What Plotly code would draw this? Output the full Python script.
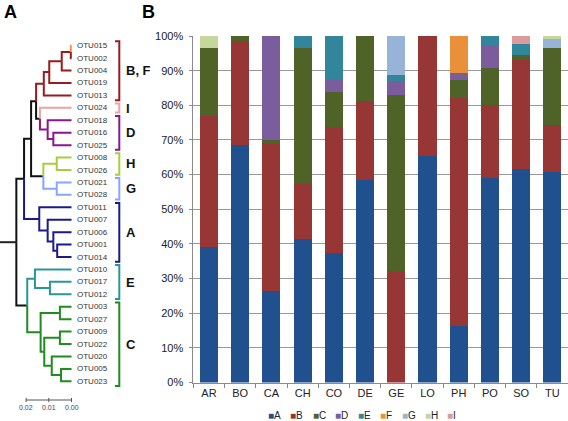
import plotly.graph_objects as go

W, H = 568, 421
FONT = "Liberation Sans, Arial, Helvetica, sans-serif"

# ---------------- bar chart data (percent) ----------------
categories = ["AR", "BO", "CA", "CH", "CO", "DE", "GE", "LO", "PH", "PO", "SO", "TU"]
series_names = ["A", "B", "C", "D", "E", "F", "G", "H", "I"]
A_vals = [39.0, 68.6, 26.4, 41.5, 37.3, 58.5, 0.0, 65.5, 16.3, 59.1, 61.7, 60.8]
B_vals = [38.0, 30.0, 42.5, 16.0, 36.5, 22.7, 32.3, 34.5, 65.7, 20.9, 31.5, 13.6]
C_vals = [19.6, 1.4, 1.0, 38.9, 10.0, 18.8, 50.7, 0.0, 5.4, 10.9, 1.2, 22.0]
D_vals = [0.0, 0.0, 30.1, 0.0, 3.9, 0.0, 4.1, 0.0, 1.8, 6.4, 0.0, 0.0]
E_vals = [0.0, 0.0, 0.0, 3.6, 12.3, 0.0, 1.6, 0.0, 0.0, 2.7, 3.4, 0.0]
F_vals = [0.0, 0.0, 0.0, 0.0, 0.0, 0.0, 0.0, 0.0, 10.8, 0.0, 0.0, 0.0]
G_vals = [0.0, 0.0, 0.0, 0.0, 0.0, 0.0, 11.3, 0.0, 0.0, 0.0, 0.0, 2.8]
H_vals = [3.4, 0.0, 0.0, 0.0, 0.0, 0.0, 0.0, 0.0, 0.0, 0.0, 0.0, 0.8]
I_vals = [0.0, 0.0, 0.0, 0.0, 0.0, 0.0, 0.0, 0.0, 0.0, 0.0, 2.2, 0.0]
series_values = [A_vals, B_vals, C_vals, D_vals, E_vals, F_vals, G_vals, H_vals, I_vals]
bar_colors = ["#21508f", "#973735", "#4f6228", "#7b5d9d", "#31869c",
              "#e8903a", "#97b3d8", "#c5d79c", "#dc9a9a"]
y_ticks = [0, 10, 20, 30, 40, 50, 60, 70, 80, 90, 100]

# ---------------- dendrogram data ----------------
leaves = ["OTU015", "OTU002", "OTU004", "OTU019", "OTU013", "OTU024", "OTU018",
          "OTU016", "OTU025", "OTU008", "OTU026", "OTU021", "OTU028", "OTU011",
          "OTU007", "OTU006", "OTU001", "OTU014", "OTU010", "OTU017", "OTU012",
          "OTU003", "OTU027", "OTU009", "OTU022", "OTU020", "OTU005", "OTU023"]
clades = ["B, F", "I", "D", "H", "G", "A", "E", "C"]
clade_sizes = [5, 1, 3, 2, 2, 5, 3, 7]
clade_colors = ["#9a1b1f", "#eca3a3", "#8c148c", "#a9cc3e", "#86a6ff",
                "#1a1a8c", "#2a9797", "#1f8c1f"]
leaf_color_override = {"OTU015": "#ff9040"}
# internal nodes: name -> (height in substitutions/site, children)
nodes = {
    "root": (0.0243, ["W", "EC"]),
    "W": (0.0209, ["Z", "Acl"]),
    "Z": (0.0178, ["X", "HG"]),
    "X": (0.0156, ["BF", "Y"]),
    "BF": (0.0122, ["bf1", "OTU013"]),
    "bf1": (0.0098, ["bf2", "OTU019"]),
    "bf2": (0.0043, ["bf3", "OTU004"]),
    "bf3": (0.0003, ["OTU015", "OTU002"]),
    "Y": (0.0139, ["OTU024", "Dcl"]),
    "Dcl": (0.0105, ["OTU018", "d1"]),
    "d1": (0.0080, ["OTU016", "OTU025"]),
    "HG": (0.0124, ["Hcl", "Gcl"]),
    "Hcl": (0.0065, ["OTU008", "OTU026"]),
    "Gcl": (0.0065, ["OTU021", "OTU028"]),
    "Acl": (0.0142, ["OTU011", "a1"]),
    "a1": (0.0105, ["OTU007", "a2"]),
    "a2": (0.0080, ["OTU006", "a3"]),
    "a3": (0.0063, ["OTU001", "OTU014"]),
    "EC": (0.0195, ["Ecl", "Ccl"]),
    "Ecl": (0.0161, ["OTU010", "e1"]),
    "e1": (0.0095, ["OTU017", "OTU012"]),
    "Ccl": (0.0136, ["c1", "c2"]),
    "c1": (0.0051, ["OTU003", "OTU027"]),
    "c2": (0.0120, ["c3", "c4"]),
    "c3": (0.0051, ["OTU009", "OTU022"]),
    "c4": (0.0087, ["OTU020", "c5"]),
    "c5": (0.0046, ["OTU005", "OTU023"]),
}
root_stem = 0.0315
scale_ticks = [0.02, 0.01, 0.00]

# ---------------- geometry helpers ----------------
def px_x(x):
    return x / W

def px_y(y):
    return 1 - y / H

TIP_PX = 71.5
PX_PER_UNIT = 2270.0
LEAF0_PX = 45.7
LEAF_STEP = 12.43

def dx(px):  # pixel -> tree distance units
    return (TIP_PX - px) / PX_PER_UNIT

leaf_index = {n: i for i, n in enumerate(leaves)}
leaf_clade = {}
k = 0
for ci, sz in enumerate(clade_sizes):
    for j in range(sz):
        leaf_clade[leaves[k]] = ci
        k += 1

def height(n):
    return nodes[n][0] if n in nodes else 0.0

def ypos(n):
    if n in leaf_index:
        return leaf_index[n]
    ch = nodes[n][1]
    return sum(ypos(c) for c in ch) / len(ch)

def leaves_of(n):
    if n in leaf_index:
        return [n]
    out = []
    for c in nodes[n][1]:
        out += leaves_of(c)
    return out

def color_of(n):
    if n in leaf_index:
        return leaf_color_override.get(n, clade_colors[leaf_clade[n]])
    cl = {leaf_clade[l] for l in leaves_of(n)}
    if len(cl) == 1:
        return clade_colors[cl.pop()]
    return "#111111"

segs = {}

def add_seg(color, xs, ys):
    d = segs.setdefault(color, ([], []))
    d[0].extend(xs + [None])
    d[1].extend(ys + [None])

for n, (h, ch) in nodes.items():
    yn = ypos(n)
    for c in ch:
        col = color_of(c)
        yc = ypos(c)
        add_seg(col, [h, h, height(c)], [yn, yc, yc])

add_seg("#222222", [root_stem, height("root")], [ypos("root"), ypos("root")])

fig = go.Figure()

order = sorted(segs.keys(), key=lambda c: 0 if c in ("#111111", "#222222") else 1)
for col in order:
    xs, ys = segs[col]
    fig.add_trace(go.Scatter(x=xs, y=ys, mode="lines", xaxis="x2", yaxis="y2",
                             line=dict(color=col, width=2), showlegend=False,
                             hoverinfo="skip"))

# brackets
BR_X = dx(119.3)
BR_T = dx(115.0)
k = 0
for ci, sz in enumerate(clade_sizes):
    top = k - 0.35
    bot = k + sz - 1 + 0.38
    fig.add_trace(go.Scatter(x=[BR_T, BR_X, BR_X, BR_T], y=[top, top, bot, bot],
                             mode="lines", xaxis="x2", yaxis="y2",
                             line=dict(color=clade_colors[ci], width=2),
                             showlegend=False, hoverinfo="skip"))
    fig.add_annotation(x=dx(123.5), y=(top + bot) / 2, xref="x2", yref="y2",
                       text="<b>%s</b>" % clades[ci], showarrow=False,
                       xanchor="left", yanchor="middle",
                       font=dict(family=FONT, size=13, color="#111111"))
    k += sz

# leaf labels
for n in leaves:
    fig.add_annotation(x=dx(74.5), y=leaf_index[n], xref="x2", yref="y2",
                       text=n, showarrow=False, xanchor="left", yanchor="middle",
                       font=dict(family=FONT, size=8, color="#333333"))

# scale bar
SB_Y = (400 - LEAF0_PX) / LEAF_STEP
fig.add_trace(go.Scatter(x=[scale_ticks[0], scale_ticks[-1]], y=[SB_Y, SB_Y],
                         mode="lines", xaxis="x2", yaxis="y2",
                         line=dict(color="#555555", width=1), showlegend=False,
                         hoverinfo="skip"))
for t in scale_ticks:
    fig.add_trace(go.Scatter(x=[t, t], y=[SB_Y - 0.17, SB_Y + 0.17], mode="lines",
                             xaxis="x2", yaxis="y2",
                             line=dict(color="#555555", width=1), showlegend=False,
                             hoverinfo="skip"))
    fig.add_annotation(x=t, y=SB_Y + 0.6, xref="x2", yref="y2", text="%.2f" % t,
                       showarrow=False, xanchor="center", yanchor="middle",
                       font=dict(family=FONT, size=7, color="#444444"))

# ---------------- bars ----------------
for name, vals, col in zip(series_names, series_values, bar_colors):
    fig.add_trace(go.Bar(x=categories, y=[v / 100 for v in vals], name=name,
                         marker=dict(color=col, line=dict(width=0)),
                         showlegend=False, xaxis="x", yaxis="y"))

# manual legend
LEG_X0, LEG_STEP, LEG_Y = 266.0, 22.4, 415.5
for i, (name, col) in enumerate(zip(series_names, bar_colors)):
    fig.add_annotation(x=px_x(LEG_X0 + i * LEG_STEP), y=px_y(LEG_Y), xref="paper",
                       yref="paper", showarrow=False, xanchor="left", yanchor="middle",
                       text="<span style='color:%s;font-size:10px'>■</span>%s" % (col, name),
                       font=dict(family=FONT, size=10, color="#222222"))

# panel labels
fig.add_annotation(x=px_x(2), y=px_y(12), xref="paper", yref="paper", text="<b>A</b>",
                   showarrow=False, xanchor="left", yanchor="middle",
                   font=dict(family=FONT, size=18, color="#000000"))
fig.add_annotation(x=px_x(140), y=px_y(12), xref="paper", yref="paper", text="<b>B</b>",
                   showarrow=False, xanchor="left", yanchor="middle",
                   font=dict(family=FONT, size=18, color="#000000"))

fig.update_layout(
    width=W, height=H, margin=dict(l=0, r=0, t=0, b=0),
    paper_bgcolor="white", plot_bgcolor="white",
    barmode="stack", bargap=0.42,
    font=dict(family=FONT),
    xaxis=dict(domain=[px_x(193.4), 1.0], type="category", categoryarray=categories,
               showline=True, linecolor="#8a8a8a", linewidth=1,
               ticks="outside", tickson="boundaries", ticklen=4, tickcolor="#8a8a8a",
               tickfont=dict(family=FONT, size=11, color="#222222"),
               showgrid=False, anchor="y", fixedrange=True, automargin=False),
    yaxis=dict(domain=[px_y(382.5), px_y(36.0)], range=[0, 1],
               tickvals=[t / 100 for t in y_ticks],
               ticktext=["%d%%" % t for t in y_ticks],
               showgrid=True, gridcolor="#9a9a9a", gridwidth=1,
               showline=True, linecolor="#8a8a8a", linewidth=1, zeroline=False,
               ticks="outside", ticklen=3, tickcolor="#8a8a8a",
               ticklabelstandoff=4,
               tickfont=dict(family=FONT, size=11, color="#222222"),
               anchor="x", fixedrange=True, automargin=False),
    xaxis2=dict(domain=[0, px_x(150)], range=[dx(0), dx(150)], visible=False,
                anchor="y2", fixedrange=True, automargin=False),
    yaxis2=dict(domain=[0, 1], range=[(H - LEAF0_PX) / LEAF_STEP, -LEAF0_PX / LEAF_STEP],
                visible=False, anchor="x2", fixedrange=True, automargin=False),
)

fig.write_html(
    "out.html",
    config={"displayModeBar": False, "staticPlot": True},
    post_script=(
        "var gd=document.getElementById('{plot_id}');"
        "document.documentElement.style.cssText='margin:0;padding:0;overflow:hidden;"
        "width:568px;height:421px';"
        "document.body.style.cssText='margin:0;padding:0;overflow:hidden;"
        "width:568px;height:421px';"
        "gd.style.position='fixed';gd.style.top='0px';gd.style.left='0px';"
    ),
)
